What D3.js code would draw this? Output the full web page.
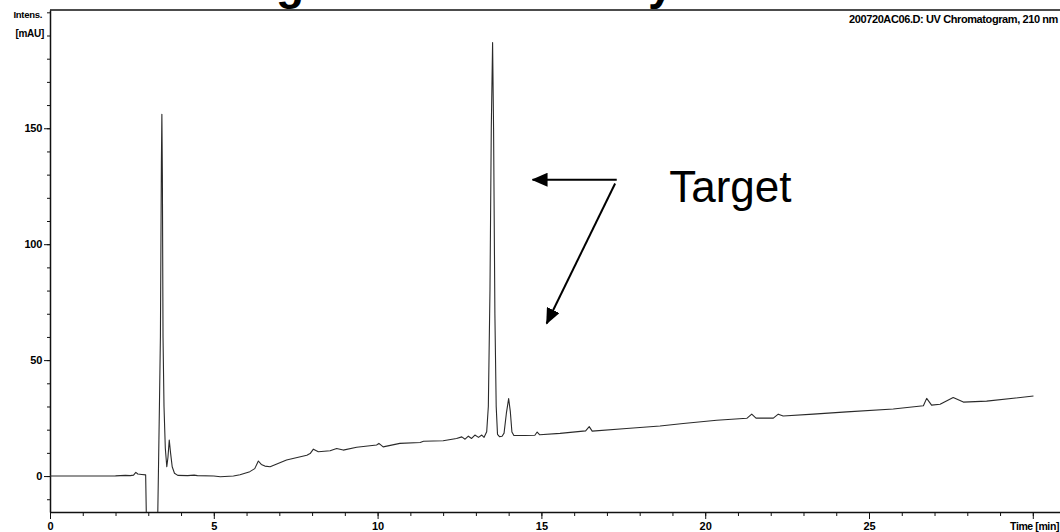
<!DOCTYPE html>
<html>
<head>
<meta charset="utf-8">
<script src="https://cdn.jsdelivr.net/npm/d3@7"></script>
<style>
  body { margin: 0; background: #fff; }
  svg { display: block; }
  .ax text { font-family: "Liberation Sans", Arial, sans-serif; font-weight: bold; fill: #000; }
  .ax path, .ax line { stroke: #111; }
  .lbl { font-family: "Liberation Sans", Arial, sans-serif; font-weight: bold; fill: #000; }
</style>
</head>
<body>
<div id="chart"></div>
<script>
// UV chromatogram, 210 nm
const times = [0, 1.0, 2.0, 2.3, 2.45, 2.55, 2.62, 2.68, 2.8, 2.92, 2.95, 3.28, 3.31, 3.34, 3.37, 3.40, 3.415, 3.43, 3.45, 3.48, 3.52, 3.565, 3.60, 3.64, 3.68, 3.73, 3.80, 3.90, 4.2, 4.4, 4.5, 5.0, 5.2, 5.6, 5.8, 6.1, 6.25, 6.36, 6.45, 6.56, 6.72, 7.22, 7.84, 7.94, 8.04, 8.19, 8.55, 8.75, 8.95, 9.36, 9.97, 10.04, 10.17, 10.68, 11.3, 11.4, 12.0, 12.41, 12.57, 12.67, 12.77, 12.87, 12.97, 13.08, 13.18, 13.25, 13.33, 13.38, 13.43, 13.47, 13.51, 13.54, 13.58, 13.62, 13.66, 13.72, 13.80, 13.86, 13.93, 14.0, 14.05, 14.10, 14.16, 14.5, 14.8, 14.87, 14.95, 15.57, 16.35, 16.46, 16.55, 17.6, 18.62, 19.33, 20.35, 21.27, 21.42, 21.55, 22.08, 22.23, 22.38, 23.3, 24.32, 25.74, 26.66, 26.76, 26.91, 27.17, 27.57, 27.88, 28.59, 30.02];
const intensities = [0, 0, 0.1, 0.3, 0.2, 0.4, 1.6, 0.9, 0.7, 0.5, -25, -25, 2, 30, 60, 135, 156, 130, 60, 30, 12, 4, 8, 15.5, 10, 4, 1.2, 0.3, 0.2, 0.4, 0.2, 0, -0.3, 0, 0.6, 1.9, 3.2, 6.5, 5, 4.3, 4, 6.9, 9, 9.7, 11.6, 10.5, 10.9, 11.9, 11.2, 12.4, 13.4, 14.1, 12.6, 14.1, 14.5, 15, 15.2, 16.2, 16.9, 15.9, 17.2, 16.2, 17.7, 16.7, 17.7, 16.7, 19.1, 30, 80, 150, 187, 150, 70, 30, 18, 17, 17.2, 18.5, 27, 33.4, 28, 19, 17.5, 17.5, 17.6, 19, 17.8, 18.4, 19.5, 21.3, 19.4, 20.5, 21.6, 22.7, 24.1, 24.9, 26.7, 25, 25, 26.7, 25.9, 26.7, 27.7, 28.9, 30.3, 33.5, 30.6, 31, 33.9, 31.9, 32.3, 34.5];

const xMajor = [0, 5, 10, 15, 20, 25, 30];
const xLabels = ["0", "5", "10", "15", "20", "25", ""];
const yMajor = [0, 50, 100, 150];
const yLabels = ["0", "50", "100", "150"];

const headerText = "200720AC06.D: UV Chromatogram, 210 nm";
const titleText = "Chromatogram of the Assay";

// annotation: arrows [t0, v0, t1, v1] in data units, and label position
const arrows = [[17.3, 127.8, 14.73, 127.8], [17.25, 126.2, 15.16, 65.8]];
const targetLabel = { text: "Target", t: 18.9, v: 118.3 };

const W = 1060, H = 532;
const pLeft = 50, pRight = 1060, pTop = 10, pBottom = 512;

const svg = d3.select("#chart").append("svg")
    .attr("width", W).attr("height", H);

const x = d3.scaleLinear().domain([0, 30.83]).range([pLeft, pRight]);
const y = d3.scaleLinear().domain([-15.5, 201]).range([pBottom, pTop]);

svg.append("defs").append("clipPath").attr("id", "plot")
    .append("rect").attr("x", pLeft).attr("y", pTop)
    .attr("width", pRight - pLeft).attr("height", pBottom - pTop);

// slide title, cut by the top edge (only descenders show)
const title = svg.append("text")
    .attr("y", -1)
    .style("font-family", "'Liberation Sans', Arial, sans-serif")
    .style("font-weight", "bold")
    .style("font-size", "46px")
    .text(titleText);
{
    const node = title.node();
    const gi = titleText.indexOf("g"), yi = titleText.lastIndexOf("y");
    const gap = node.getStartPositionOfChar(yi).x - node.getStartPositionOfChar(gi).x;
    title.style("font-size", (46 * 372 / gap) + "px");
    const gx = node.getStartPositionOfChar(gi).x;
    title.attr("x", 276 - gx);
}

// frame top line
svg.append("line")
    .attr("x1", pLeft).attr("x2", pRight).attr("y1", pTop).attr("y2", pTop)
    .attr("stroke", "#111").attr("stroke-width", 1.5);

// y axis
svg.append("g").attr("class", "ax")
    .attr("transform", `translate(${pLeft},0)`)
    .call(d3.axisLeft(y).tickValues(d3.range(-10, 201, 10)).tickSize(3).tickSizeOuter(0).tickFormat(""))
    .call(g => g.select(".domain").attr("stroke-width", 1.5));
svg.append("g").attr("class", "ax")
    .attr("transform", `translate(${pLeft},0)`)
    .call(d3.axisLeft(y).tickValues(yMajor).tickSize(6).tickPadding(2)
        .tickFormat((d, i) => yLabels[i]))
    .call(g => g.select(".domain").remove())
    .call(g => g.selectAll("text").style("font-size", "11px").style("letter-spacing", "-0.3px"));

// x axis
svg.append("g").attr("class", "ax")
    .attr("transform", `translate(0,${pBottom})`)
    .call(d3.axisBottom(x).tickValues(d3.range(0, 31, 1)).tickSize(4).tickSizeOuter(0).tickFormat(""))
    .call(g => g.select(".domain").attr("stroke-width", 1.5));
svg.append("g").attr("class", "ax")
    .attr("transform", `translate(0,${pBottom})`)
    .call(d3.axisBottom(x).tickValues(xMajor).tickSize(7).tickPadding(3)
        .tickFormat((d, i) => xLabels[i]))
    .call(g => g.select(".domain").remove())
    .call(g => g.selectAll("text").style("font-size", "11px"));

// axis titles
svg.append("text").attr("class", "lbl")
    .attr("x", 42).attr("y", 18).attr("text-anchor", "end")
    .style("font-size", "9.5px").style("letter-spacing", "-0.3px").text("Intens.");
svg.append("text").attr("class", "lbl")
    .attr("x", 44).attr("y", 37).attr("text-anchor", "end")
    .style("font-size", "10px").style("letter-spacing", "-0.3px").text("[mAU]");
svg.append("text").attr("class", "lbl")
    .attr("x", 1059).attr("y", 530).attr("text-anchor", "end")
    .style("font-size", "10.5px").style("letter-spacing", "-0.4px").text("Time [min]");
svg.append("text").attr("class", "lbl")
    .attr("x", 1058).attr("y", 23).attr("text-anchor", "end")
    .style("font-size", "11px").style("letter-spacing", "-0.4px").text(headerText);

// trace
const series = times.map((t, i) => ({ t, v: intensities[i] }));
const line = d3.line().x(d => x(d.t)).y(d => y(d.v));
svg.append("path")
    .datum(series)
    .attr("clip-path", "url(#plot)")
    .attr("fill", "none")
    .attr("stroke", "#2a2a2a")
    .attr("stroke-width", 1.1)
    .attr("stroke-linejoin", "round")
    .attr("d", line);

// annotation
svg.select("defs").append("marker")
    .attr("id", "head")
    .attr("markerUnits", "userSpaceOnUse")
    .attr("viewBox", "0 0 16 14")
    .attr("refX", 15).attr("refY", 7)
    .attr("markerWidth", 16).attr("markerHeight", 14)
    .attr("orient", "auto")
    .append("path").attr("d", "M0,0 L16,7 L0,14 Z").attr("fill", "#000");

svg.selectAll(".arrow")
    .data(arrows)
    .enter().append("line")
    .attr("class", "arrow")
    .attr("x1", d => x(d[0])).attr("y1", d => y(d[1]))
    .attr("x2", d => x(d[2])).attr("y2", d => y(d[3]))
    .attr("stroke", "#000").attr("stroke-width", 2)
    .attr("marker-end", "url(#head)");

svg.append("text")
    .attr("x", x(targetLabel.t)).attr("y", y(targetLabel.v))
    .style("font-family", "'Liberation Sans', Arial, sans-serif")
    .style("font-size", "44px")
    .text(targetLabel.text);
</script>
</body>
</html>
